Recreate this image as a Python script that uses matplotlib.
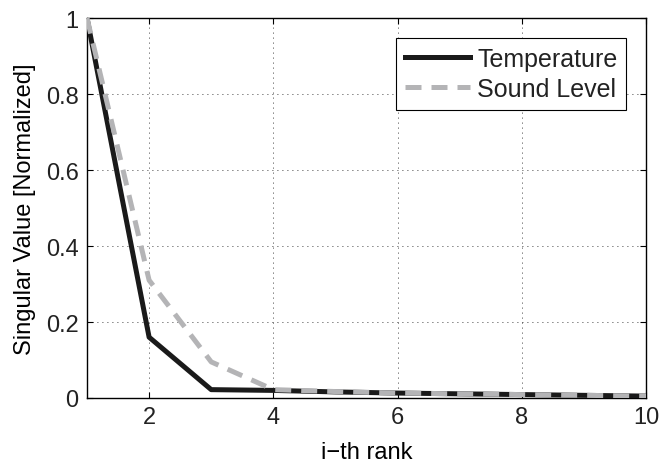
import matplotlib.pyplot as plt
import numpy as np

rank = [1, 2, 3, 4, 5, 6, 7, 8, 9, 10]
temperature = [1.0, 0.16, 0.022, 0.02, 0.016, 0.013, 0.011, 0.009, 0.007, 0.005]
sound_level = [1.0, 0.31, 0.095, 0.022, 0.017, 0.013, 0.011, 0.009, 0.007, 0.005]

plt.rcParams['font.family'] = ['Liberation Sans', 'DejaVu Sans']
plt.rcParams['text.color'] = '#222222'

fig = plt.figure(figsize=(6.62, 4.64), dpi=100)
ax = fig.add_axes([87/662, 1 - 399/464, (646-87)/662, (399-19)/464])

ax.plot(rank, temperature, color='#1a1a1a', lw=3.6, label='Temperature', zorder=3)
ax.plot(rank, sound_level, color='#b4b4b6', lw=3.6, ls=(0, (3.2, 2.0)), label='Sound Level', zorder=4)

ax.set_xlim(1, 10)
ax.set_ylim(0, 1)
ax.set_xticks([2, 4, 6, 8, 10])
ax.set_yticks([0, 0.2, 0.4, 0.6, 0.8, 1])
ax.set_yticklabels(['0', '0.2', '0.4', '0.6', '0.8', '1'])
ax.grid(True, color='black', ls=(0, (1, 5)), lw=0.6)
ax.tick_params(direction='in', top=True, right=True, labelsize=17, length=4, pad=6,
               labelcolor='#222222')
for s in ax.spines.values():
    s.set_linewidth(1.0)

ax.set_xlabel('i\u2212th rank', fontsize=17, labelpad=9)
ax.set_ylabel('Singular Value [Normalized]', fontsize=17, labelpad=7)

leg = ax.legend(loc='upper right', fontsize=18, fancybox=False, framealpha=1,
                edgecolor='black', borderaxespad=0.8, handlelength=2.6,
                handletextpad=0.3, borderpad=0.35, labelspacing=0.25)
leg.get_frame().set_linewidth(0.8)

fig.savefig('out.png', dpi=100)
